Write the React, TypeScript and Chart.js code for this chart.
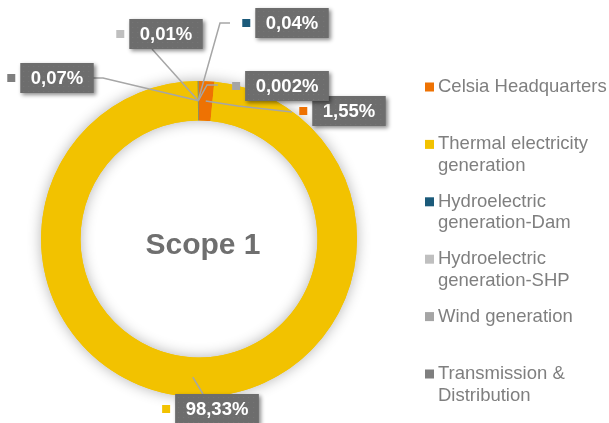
import React, { useEffect, useRef } from "react";
import { Chart, registerables } from "chart.js";

Chart.register(...registerables);

const categories = [
  "Celsia Headquarters",
  "Thermal electricity generation",
  "Hydroelectric generation-Dam",
  "Hydroelectric generation-SHP",
  "Wind generation",
  "Transmission & Distribution",
];
const shares = [1.55, 98.33, 0.04, 0.01, 0.002, 0.07];
const colors = ["#EE7203", "#F2C200", "#1B5A7A", "#BFBFBF", "#A5A5A5", "#7F7F7F"];
const centerTitle = "Scope 1";

// label box layout (annotation placement only): box centre and leader path points
const LABEL_LAYOUT = [
  { cx: 349, cy: 111, path: [[238, 106], [292, 112]] },
  { cx: 217, cy: 409, path: [[203, 394]] },
  { cx: 292, cy: 23, path: [[220, 23], [230, 23]] },
  { cx: 166, cy: 34, path: [[152, 49]] },
  { cx: 287, cy: 86, path: [[207, 85], [218, 85]] },
  { cx: 57, cy: 78, path: [[103, 78], [93, 78]] },
];

const FONT = '"Liberation Sans", Arial, sans-serif';

function fmt(v: number) {
  return String(v).replace(".", ",") + "%";
}

function wrap(ctx: CanvasRenderingContext2D, text: string, maxW: number) {
  const words = text.split(" ");
  const lines: string[] = [];
  let cur = "";
  for (const w of words) {
    const t = cur ? cur + " " + w : w;
    if (ctx.measureText(t).width > maxW && cur) {
      lines.push(cur);
      cur = w;
    } else cur = t;
  }
  if (cur) lines.push(cur);
  return lines;
}

const decorPlugin = {
  id: "decor",
  beforeDatasetsDraw(chart: any) {
    const meta = chart.getDatasetMeta(0);
    const arc = meta.data[0];
    if (!arc) return;
    const { x, y, outerRadius, innerRadius } = arc.getProps(["x", "y", "outerRadius", "innerRadius"], true);
    const ctx = chart.ctx as CanvasRenderingContext2D;
    ctx.save();
    ctx.shadowColor = "rgba(0,0,0,0.3)";
    ctx.shadowBlur = 14;
    ctx.beginPath();
    ctx.arc(x, y, outerRadius, 0, Math.PI * 2);
    ctx.arc(x, y, innerRadius, Math.PI * 2, 0, true);
    ctx.closePath();
    ctx.fillStyle = colors[1];
    ctx.fill();
    ctx.restore();
  },
  afterDraw(chart: any) {
    const ctx = chart.ctx as CanvasRenderingContext2D;
    const meta = chart.getDatasetMeta(0);
    const arc0 = meta.data[0];
    const { x: cx, y: cy } = arc0.getProps(["x", "y"], true);

    // centre title
    ctx.save();
    ctx.font = `bold 30px ${FONT}`;
    ctx.fillStyle = "#6f6f6f";
    ctx.textAlign = "center";
    ctx.textBaseline = "middle";
    ctx.fillText(centerTitle, cx + 4, cy + 7);
    ctx.restore();

    // leader lines
    ctx.save();
    ctx.strokeStyle = "#a6a6a6";
    ctx.lineWidth = 1.5;
    meta.data.forEach((el: any, i: number) => {
      const p = el.tooltipPosition(true);
      const lay = LABEL_LAYOUT[i];
      ctx.beginPath();
      ctx.moveTo(p.x, p.y);
      lay.path.forEach(([px, py]) => ctx.lineTo(px, py));
      ctx.stroke();
    });
    ctx.restore();

    // label boxes
    meta.data.forEach((el: any, i: number) => {
      const lay = LABEL_LAYOUT[i];
      const text = fmt(shares[i]);
      ctx.save();
      ctx.font = `bold 18.5px ${FONT}`;
      const tw = ctx.measureText(text).width;
      const w = tw + 21;
      const h = 30;
      const bx = lay.cx - w / 2;
      const by = lay.cy - h / 2;
      ctx.shadowColor = "rgba(0,0,0,0.45)";
      ctx.shadowBlur = 4;
      ctx.shadowOffsetX = 2;
      ctx.shadowOffsetY = 2;
      ctx.fillStyle = "#6d6d6d";
      ctx.fillRect(bx, by, w, h);
      ctx.shadowColor = "transparent";
      // subtle dot texture
      ctx.fillStyle = "rgba(255,255,255,0.07)";
      for (let dx = 3; dx < w - 1; dx += 5) {
        for (let dy = 3; dy < h - 1; dy += 5) ctx.fillRect(bx + dx, by + dy, 1, 1);
      }
      ctx.fillStyle = "#ffffff";
      ctx.textAlign = "center";
      ctx.textBaseline = "middle";
      ctx.fillText(text, lay.cx, lay.cy + 1);
      // colour square
      ctx.fillStyle = colors[i];
      ctx.fillRect(bx - 13, lay.cy - 4, 8, 8);
      ctx.restore();
    });

    // legend
    ctx.save();
    ctx.font = `18.5px ${FONT}`;
    ctx.textBaseline = "middle";
    ctx.textAlign = "left";
    const lx = 438;
    const maxW = chart.width - lx + 2;
    categories.forEach((name, i) => {
      const y0 = 87 + i * 57.4;
      const lines = wrap(ctx, name, maxW);
      ctx.fillStyle = colors[i];
      ctx.fillRect(425, y0 - 4.5, 9, 9);
      ctx.fillStyle = "#7f7f7f";
      lines.forEach((ln, k) => ctx.fillText(ln, lx, y0 + k * 21.5));
    });
    ctx.restore();
  },
};

export default function App() {
  const ref = useRef<HTMLCanvasElement | null>(null);
  useEffect(() => {
    if (!ref.current) return;
    const chart = new Chart(ref.current, {
      type: "doughnut",
      data: {
        labels: categories,
        datasets: [
          {
            data: shares,
            backgroundColor: colors,
            borderWidth: 0,
          },
        ],
      },
      options: {
        responsive: false,
        animation: false,
        cutout: "75%",
        layout: { padding: { left: 41, top: 81, right: 252, bottom: 26 } },
        plugins: {
          legend: { display: false },
          tooltip: { enabled: false },
        },
      },
      plugins: [decorPlugin],
    });
    return () => chart.destroy();
  }, []);
  return (
    <div style={{ position: "absolute", left: 0, top: 0, width: 609, height: 423, background: "#fff" }}>
      <canvas ref={ref} width={609} height={423} />
    </div>
  );
}
